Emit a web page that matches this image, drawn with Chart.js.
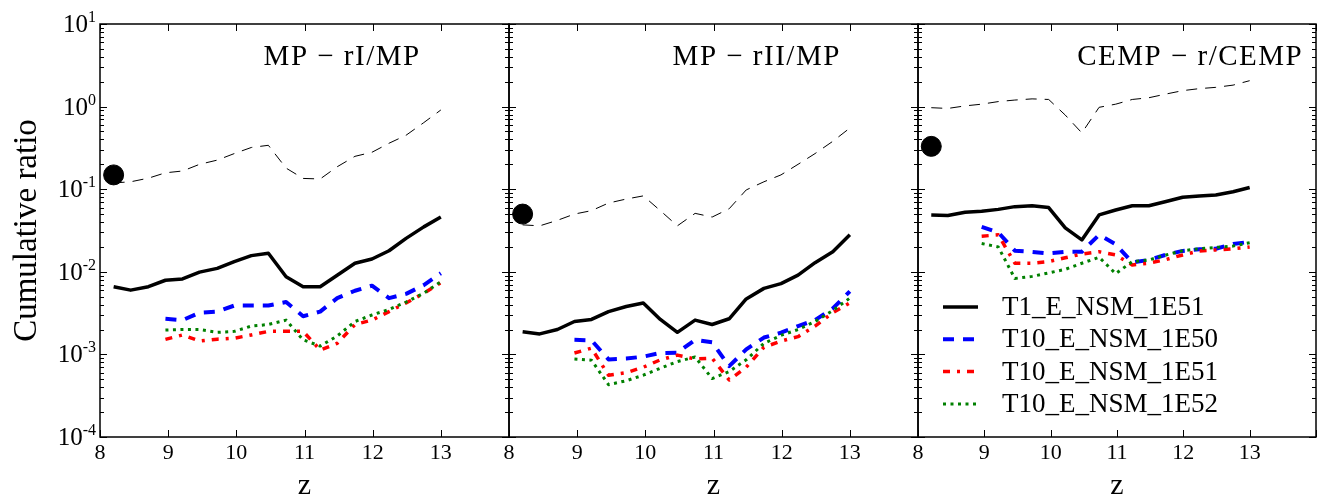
<!DOCTYPE html>
<html>
<head>
<meta charset="utf-8">
<script src="https://cdn.jsdelivr.net/npm/chart.js@4.4.0/dist/chart.umd.min.js"></script>
<style>
  body { margin: 0; background: #fff; }
  #wrap { position: relative; width: 1327px; height: 497px; }
  #wrap canvas { position: absolute; left: 0; top: 0; }
</style>
</head>
<body>
<div id="wrap">
  <canvas id="p1" width="1327" height="497"></canvas>
  <canvas id="p2" width="1327" height="497"></canvas>
  <canvas id="p3" width="1327" height="497"></canvas>
</div>
<script>
// redshift grid of the models
var zAll = [8.2, 8.45, 8.71, 8.96, 9.21, 9.46, 9.72, 9.97, 10.22, 10.47, 10.73, 10.98, 11.23, 11.48, 11.74, 11.99, 12.24, 12.49, 12.75, 13.0];
var zT10 = [8.96, 9.21, 9.46, 9.72, 9.97, 10.22, 10.47, 10.73, 10.98, 11.23, 11.48, 11.74, 11.99, 12.24, 12.49, 12.75, 13.0];

var panelNames = ['MP \u2212 rI/MP', 'MP \u2212 rII/MP', 'CEMP \u2212 r/CEMP'];
var seriesNames = ['T1_E_NSM_1E51', 'T10_E_NSM_1E50', 'T10_E_NSM_1E51', 'T10_E_NSM_1E52'];

// observed ratio (big dot)
var obsZ = 8.2;
var obsRatio = [0.149, 0.050, 0.33];

// MP-rI / MP
var ref_rI = [0.119, 0.123, 0.136, 0.158, 0.166, 0.20, 0.225, 0.27, 0.32, 0.34, 0.18, 0.135, 0.133, 0.187, 0.25, 0.28, 0.36, 0.45, 0.64, 0.91];
var t1e51_rI = [0.0066, 0.0060, 0.0066, 0.0079, 0.0082, 0.0099, 0.011, 0.0133, 0.0157, 0.0168, 0.0087, 0.0066, 0.0066, 0.0091, 0.0127, 0.0143, 0.018, 0.0254, 0.035, 0.046];
var t10e50_rI = [0.0027, 0.0026, 0.0032, 0.0033, 0.0039, 0.0039, 0.0039, 0.0043, 0.0029, 0.0033, 0.0048, 0.0059, 0.0068, 0.0048, 0.0054, 0.0069, 0.0096];
var t10e51_rI = [0.00152, 0.00172, 0.00145, 0.00153, 0.00157, 0.00172, 0.0019, 0.0019, 0.0019, 0.00113, 0.00136, 0.0023, 0.0026, 0.0033, 0.0042, 0.0055, 0.0074];
var t10e52_rI = [0.00197, 0.0020, 0.0020, 0.00185, 0.0019, 0.0022, 0.0023, 0.0026, 0.0015, 0.00126, 0.00167, 0.0025, 0.0030, 0.0035, 0.0043, 0.0055, 0.0076];

// MP-rII / MP
var ref_rII = [0.037, 0.036, 0.042, 0.050, 0.055, 0.068, 0.076, 0.083, 0.055, 0.036, 0.051, 0.046, 0.058, 0.098, 0.123, 0.149, 0.20, 0.27, 0.38, 0.55];
var t1e51_rII = [0.00188, 0.00177, 0.0020, 0.0025, 0.00265, 0.0033, 0.0038, 0.0042, 0.00265, 0.00185, 0.0026, 0.0023, 0.0027, 0.0047, 0.0063, 0.0072, 0.0091, 0.0129, 0.0175, 0.028];
var t10e50_rII = [0.0015, 0.00148, 0.00087, 0.00089, 0.00094, 0.00104, 0.00105, 0.0015, 0.0014, 0.00072, 0.00115, 0.0016, 0.00183, 0.0022, 0.0026, 0.0036, 0.0058];
var t10e51_rII = [0.00104, 0.00119, 0.00056, 0.0006, 0.0007, 0.00086, 0.00098, 0.00088, 0.0009, 0.00049, 0.0007, 0.00122, 0.00145, 0.00164, 0.0022, 0.0032, 0.0042];
var t10e52_rII = [0.00088, 0.00085, 0.00043, 0.00048, 0.00056, 0.00068, 0.00082, 0.00093, 0.00051, 0.00062, 0.00086, 0.00136, 0.0017, 0.0020, 0.0025, 0.0034, 0.0048];

// CEMP-r / CEMP
var ref_r = [0.97, 0.95, 1.02, 1.07, 1.15, 1.2, 1.24, 1.22, 0.79, 0.48, 0.98, 1.07, 1.22, 1.28, 1.42, 1.56, 1.65, 1.71, 1.82, 2.06];
var t1e51_r = [0.0488, 0.048, 0.0525, 0.054, 0.057, 0.0615, 0.063, 0.060, 0.034, 0.0243, 0.0488, 0.056, 0.063, 0.063, 0.071, 0.080, 0.083, 0.085, 0.093, 0.105];
var t10e50_r = [0.035, 0.030, 0.018, 0.0174, 0.0167, 0.0174, 0.0175, 0.028, 0.0215, 0.013, 0.0139, 0.0161, 0.0179, 0.0187, 0.019, 0.0217, 0.023];
var t10e51_r = [0.027, 0.028, 0.0127, 0.0127, 0.0133, 0.0148, 0.0164, 0.0175, 0.016, 0.0121, 0.0127, 0.0141, 0.016, 0.0179, 0.0184, 0.019, 0.020];
var t10e52_r = [0.022, 0.020, 0.0083, 0.0088, 0.0097, 0.0107, 0.0127, 0.015, 0.0095, 0.0133, 0.0139, 0.016, 0.018, 0.019, 0.0197, 0.0205, 0.0225];

// axis ticks
var xTicks = [8, 9, 10, 11, 12, 13, 14];
var yDecadeExp = [-4, -3, -2, -1, 0, 1];
var yMinor = [2, 3, 4, 5, 6, 7, 8, 9];

var SERIF = '"Liberation Serif", "Times New Roman", serif';

function pts(xs, ys) {
    return xs.map(function (x, i) { return { x: x, y: ys[i] }; });
}

// frame, inward ticks, y labels, panel names, legend
var framePlugin = {
    id: 'frame',
    afterDraw: function (chart, args, opts) {
        var ctx = chart.ctx;
        var ca = chart.chartArea;
        var xs = chart.scales.x, ys = chart.scales.y;
        ctx.save();
        ctx.strokeStyle = '#000';
        ctx.lineWidth = 1;
        ctx.setLineDash([]);

        // y ticks, both sides
        yDecadeExp.forEach(function (e) {
            var py = Math.round(ys.getPixelForValue(Math.pow(10, e))) + 0.5;
            ctx.beginPath();
            ctx.moveTo(ca.left, py); ctx.lineTo(ca.left + 7, py);
            ctx.moveTo(ca.right, py); ctx.lineTo(ca.right - 7, py);
            ctx.stroke();
            if (e < 1) {
                yMinor.forEach(function (m) {
                    var my = Math.round(ys.getPixelForValue(m * Math.pow(10, e))) + 0.5;
                    ctx.beginPath();
                    ctx.moveTo(ca.left, my); ctx.lineTo(ca.left + 4, my);
                    ctx.moveTo(ca.right, my); ctx.lineTo(ca.right - 4, my);
                    ctx.stroke();
                });
            }
        });
        // x ticks, top and bottom
        xTicks.forEach(function (t) {
            var px = Math.round(xs.getPixelForValue(t)) + 0.5;
            ctx.beginPath();
            ctx.moveTo(px, ca.top); ctx.lineTo(px, ca.top + 7);
            ctx.moveTo(px, ca.bottom); ctx.lineTo(px, ca.bottom - 7);
            ctx.stroke();
        });

        // box
        ctx.lineWidth = 1.5;
        ctx.strokeRect(ca.left, ca.top, ca.right - ca.left, ca.bottom - ca.top);

        ctx.fillStyle = '#000';
        // y tick labels 10^n
        if (opts.panel === 0) {
            yDecadeExp.forEach(function (e) {
                var py = ys.getPixelForValue(Math.pow(10, e));
                var expo = String(e);
                ctx.font = '16px ' + SERIF;
                var ew = ctx.measureText(expo).width;
                var r = ca.left - 4;
                ctx.textAlign = 'left';
                ctx.textBaseline = 'alphabetic';
                ctx.fillText(expo, r - ew, py - 2);
                ctx.font = '25px ' + SERIF;
                ctx.textAlign = 'right';
                ctx.fillText('10', r - ew, py + 8);
            });
        }

        // panel name
        ctx.font = '29px ' + SERIF;
        ctx.letterSpacing = '1.5px';
        ctx.textAlign = 'left';
        ctx.textBaseline = 'alphabetic';
        ctx.fillText(panelNames[opts.panel], ca.left + 0.4 * (ca.right - ca.left), 65);
        ctx.letterSpacing = '0px';

        // legend in the last panel
        if (opts.panel === 2) {
            ctx.font = '27px ' + SERIF;
            ctx.textBaseline = 'middle';
            for (var i = 0; i < seriesNames.length; i++) {
                var ds = chart.data.datasets[i + 2];
                var ly = ca.top + 283 + i * 32.3;
                ctx.save();
                ctx.strokeStyle = ds.borderColor;
                ctx.lineWidth = ds.borderWidth;
                ctx.setLineDash(ds.borderDash || []);
                ctx.beginPath();
                ctx.moveTo(ca.left + 25, ly);
                ctx.lineTo(ca.left + 60, ly);
                ctx.stroke();
                ctx.restore();
                ctx.fillText(seriesNames[i], ca.left + 84, ly + 1);
            }
        }
        ctx.restore();
    }
};

function makePanel(id, idx, ref, t1, e50, e51, e52, obs, padL, padR) {
    var datasets = [
        { data: [{ x: obsZ, y: obs }], showLine: false, pointRadius: 10, pointHoverRadius: 10,
          pointBackgroundColor: '#000', pointBorderColor: '#000', order: 0 },
        { data: pts(zAll, ref), borderColor: '#000', borderWidth: 1, borderDash: [11, 8],
          pointRadius: 0, order: 6 },
        { data: pts(zAll, t1), borderColor: '#000', borderWidth: 3.5, pointRadius: 0, order: 5 },
        { data: pts(zT10, e50), borderColor: '#0000ff', borderWidth: 4, borderDash: [11, 9],
          pointRadius: 0, order: 4 },
        { data: pts(zT10, e51), borderColor: '#ff0000', borderWidth: 3.5, borderDash: [7, 7, 3, 7],
          pointRadius: 0, order: 3 },
        { data: pts(zT10, e52), borderColor: '#008000', borderWidth: 3, borderDash: [3, 4.5],
          pointRadius: 0, order: 2 }
    ];

    return new Chart(document.getElementById(id), {
        type: 'line',
        data: { datasets: datasets },
        plugins: [framePlugin],
        options: {
            responsive: false,
            animation: false,
            events: [],
            layout: { padding: { top: 24, bottom: 0, left: padL, right: padR } },
            elements: { line: { tension: 0, fill: false, borderCapStyle: 'butt', borderJoinStyle: 'round' } },
            plugins: {
                legend: { display: false },
                tooltip: { enabled: false },
                frame: { panel: idx }
            },
            scales: {
                x: {
                    type: 'linear', min: 8, max: 14,
                    grid: { display: false, drawTicks: false },
                    border: { display: false },
                    ticks: {
                        stepSize: 1, autoSkip: false, maxRotation: 0, padding: 3, color: '#000',
                        font: { family: SERIF, size: 22 },
                        callback: function (v) { return v >= 14 ? '' : String(v); }
                    },
                    title: { display: true, text: 'z', color: '#000', padding: 0,
                             font: { family: SERIF, size: 30, lineHeight: 0.73 } },
                    afterFit: function (s) { s.height = 60; }
                },
                y: {
                    type: 'logarithmic', min: 1e-4, max: 10,
                    display: idx === 0,
                    grid: { display: false, drawTicks: false },
                    border: { display: false },
                    ticks: { display: false },
                    title: { display: true, text: 'Cumulative ratio', color: '#000',
                             padding: { top: 8, bottom: 0 },
                             font: { family: SERIF, size: 33 } },
                    afterFit: function (s) { s.width = idx === 0 ? 100 : 0; }
                }
            }
        }
    });
}

makePanel('p1', 0, ref_rI, t1e51_rI, t10e50_rI, t10e51_rI, t10e52_rI, obsRatio[0], 0, 818);
makePanel('p2', 1, ref_rII, t1e51_rII, t10e50_rII, t10e51_rII, t10e52_rII, obsRatio[1], 509, 409);
makePanel('p3', 2, ref_r, t1e51_r, t10e50_r, t10e51_r, t10e52_r, obsRatio[2], 918, 3);
</script>
</body>
</html>
